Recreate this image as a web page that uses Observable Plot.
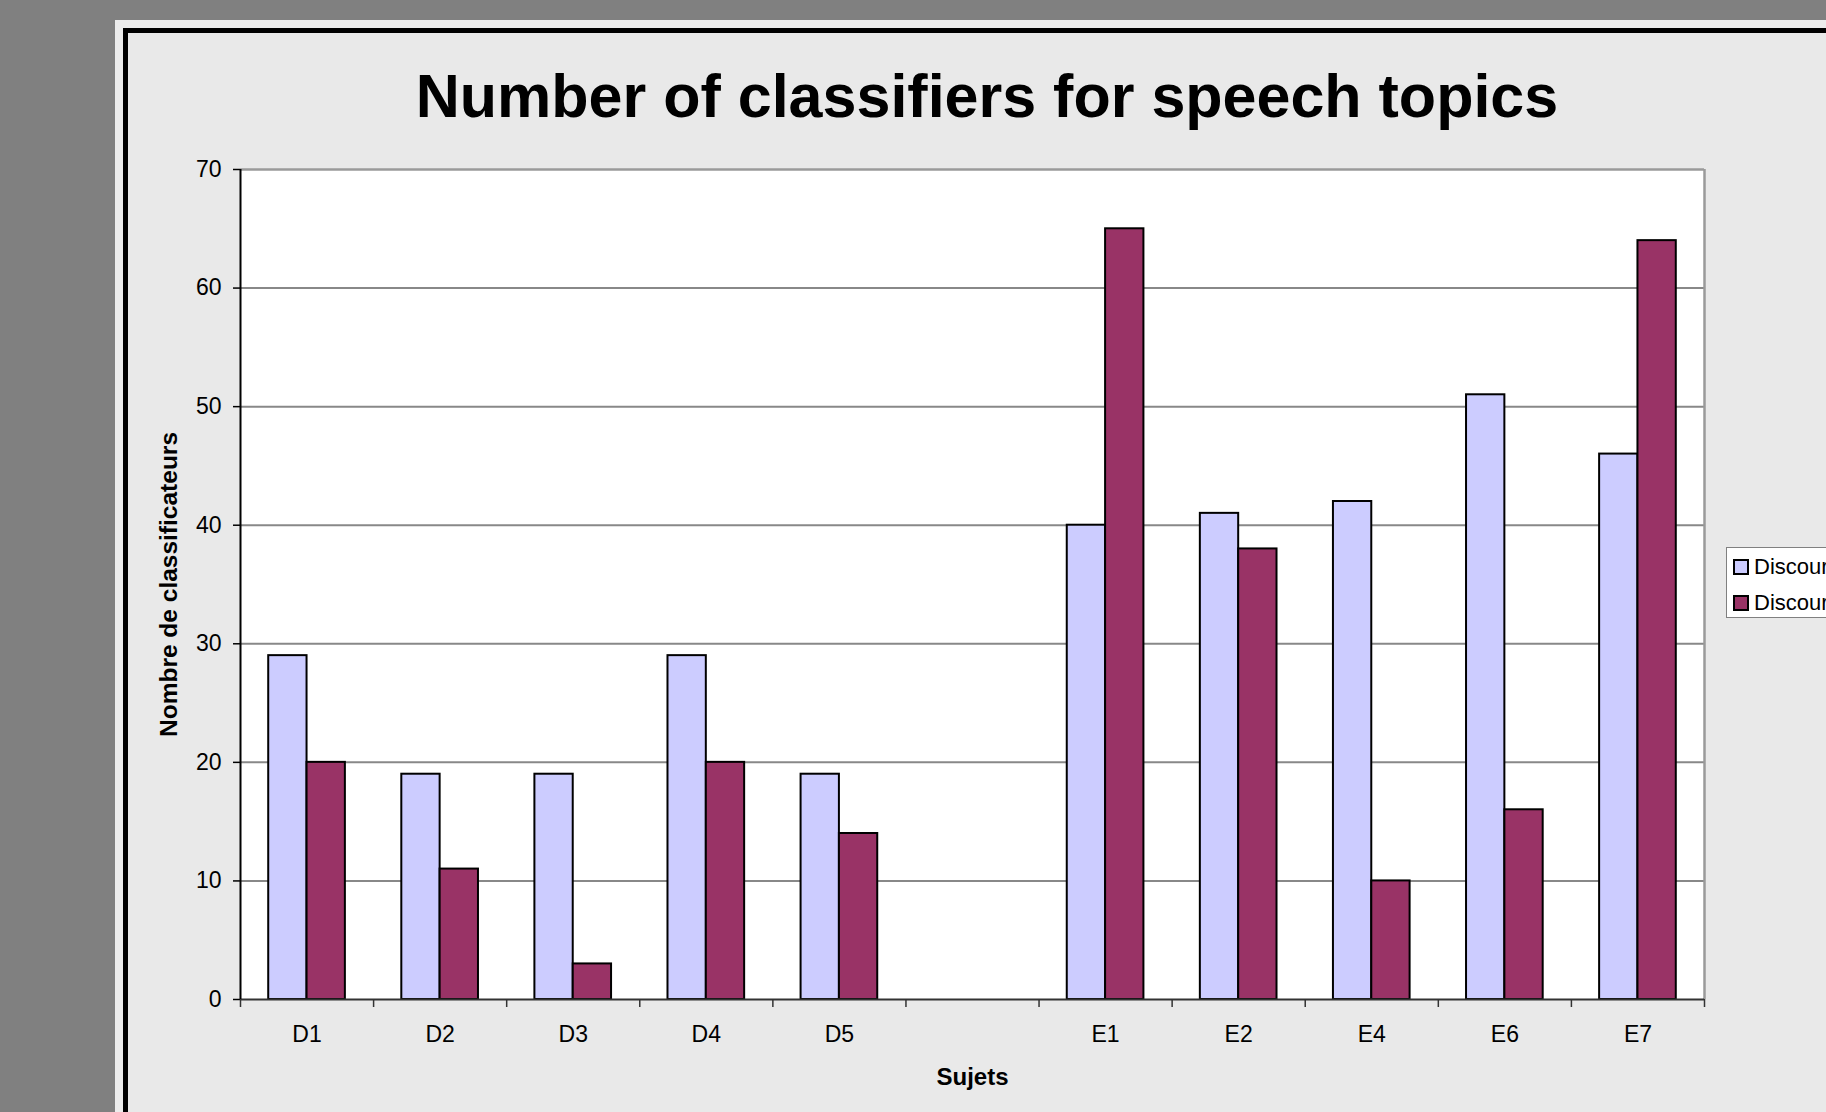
<!DOCTYPE html>
<html>
<head>
<meta charset="utf-8">
<script src="https://cdn.jsdelivr.net/npm/d3@7"></script>
<script src="https://cdn.jsdelivr.net/npm/@observablehq/plot@0.6"></script>
<style>
  html, body { margin: 0; padding: 0; width: 1826px; height: 1112px; overflow: hidden; background: #808080;
    font-family: "Liberation Sans", Arial, sans-serif; }
  #strip { position: absolute; left: 115px; top: 20px; width: 1800px; height: 1200px; background: #ececec; }
  #panel { position: absolute; left: 123px; top: 28px; width: 1800px; height: 1200px; background: #e9e9e9;
    border-left: 5px solid #000; border-top: 5px solid #000; }
  #title { position: absolute; left: 287px; width: 1400px; top: 66px; text-align: center; font-weight: bold;
    font-size: 61px; line-height: 61px; color: #000; white-space: nowrap; }
  #chart { position: absolute; left: 0; top: 140px; }
  #legend { position: absolute; left: 1726px; top: 547px; width: 220px; height: 71px; background: #fff;
    border: 1.5px solid #808080; box-sizing: border-box; }
  .item { position: absolute; left: 6px; height: 22px; font-size: 22px; line-height: 22px; white-space: nowrap; color: #000; }
  .sw { display: inline-block; width: 12px; height: 12px; border: 2px solid #000; vertical-align: -1px; margin-right: 5px; }
</style>
</head>
<body>
<div id="strip"></div>
<div id="panel"></div>
<div id="title">Number of classifiers for speech topics</div>
<div id="chart"></div>
<div id="legend"></div>
<script>
// ---- data ----
const categories = ["D1", "D2", "D3", "D4", "D5", "", "E1", "E2", "E4", "E6", "E7"];
const seriesNames = ["Discours 1", "Discours 2"];
const seriesA = [29, 19, 19, 29, 19, null, 40, 41, 42, 51, 46];
const seriesB = [20, 11, 3, 20, 14, null, 65, 38, 10, 16, 64];
const yTicks = [0, 10, 20, 30, 40, 50, 60, 70];
const gridTicks = [10, 20, 30, 40, 50, 60];
const colors = ["#CCCCFF", "#993366"];

// ---- table ----
const seriesValues = [seriesA, seriesB];
const rows = [];
categories.forEach((cat, i) => {
  seriesValues.forEach((vals, s) => {
    if (vals[i] != null) rows.push({i, cat, s, series: seriesNames[s], value: vals[i]});
  });
});

const barFrac = 0.288; // bar width as a fraction of one category slot
const edges = d3.range(-0.5, categories.length, 1);

const chart = Plot.plot({
  width: 1826,
  height: 972,
  marginLeft: 240,
  marginRight: 122,
  marginTop: 29,
  marginBottom: 113,
  style: {background: "transparent", fontFamily: "'Liberation Sans', Arial, sans-serif", overflow: "visible"},
  x: {domain: [-0.5, categories.length - 0.5], axis: null},
  y: {domain: [0, 70], axis: null},
  color: {domain: seriesNames, range: colors},
  marks: [
    Plot.frame({fill: "white", stroke: "none"}),
    Plot.ruleY(gridTicks, {stroke: "#888888", strokeWidth: 2}),
    Plot.ruleY([70], {stroke: "#9a9a9a", strokeWidth: 2.5}),
    Plot.ruleX([categories.length - 0.5], {stroke: "#9a9a9a", strokeWidth: 2.5}),
    Plot.rect(rows, {
      x1: d => d.i + (d.s === 0 ? -barFrac : 0),
      x2: d => d.i + (d.s === 0 ? 0 : barFrac),
      y1: 0,
      y2: "value",
      fill: "series",
      stroke: "#000",
      strokeWidth: 2
    }),
    Plot.ruleY([0], {stroke: "#333", strokeWidth: 2}),
    Plot.ruleX([-0.5], {stroke: "#000", strokeWidth: 2}),
    Plot.axisY({ticks: yTicks, tickSize: 7, tickPadding: 12, fontSize: 23, label: null, stroke: "#000", strokeWidth: 1.5, fill: "#000"}),
    Plot.axisX({ticks: edges, tickSize: 8, tickFormat: () => "", label: null, stroke: "#333", strokeWidth: 1.5}),
    Plot.axisX({ticks: d3.range(categories.length), tickSize: 0, tickPadding: 26, tickFormat: i => categories[i], fontSize: 23, label: null, fill: "#000"}),
    Plot.text(["Nombre de classificateurs"], {frameAnchor: "left", textAnchor: "middle", rotate: -90, dx: -64, lineAnchor: "bottom", fontSize: 24.5, fontWeight: "bold", fill: "#000"}),
    Plot.text(["Sujets"], {frameAnchor: "bottom", textAnchor: "middle", dy: 85, lineAnchor: "bottom", fontSize: 24, fontWeight: "bold", fill: "#000"})
  ]
});
document.getElementById("chart").appendChild(chart);

// ---- legend ----
const legend = document.getElementById("legend");
seriesNames.forEach((name, s) => {
  const item = document.createElement("div");
  item.className = "item";
  item.style.top = (s === 0 ? 8 : 44) + "px";
  item.innerHTML = `<span class="sw" style="background:${colors[s]}"></span>${name}`;
  legend.appendChild(item);
});
</script>
</body>
</html>
